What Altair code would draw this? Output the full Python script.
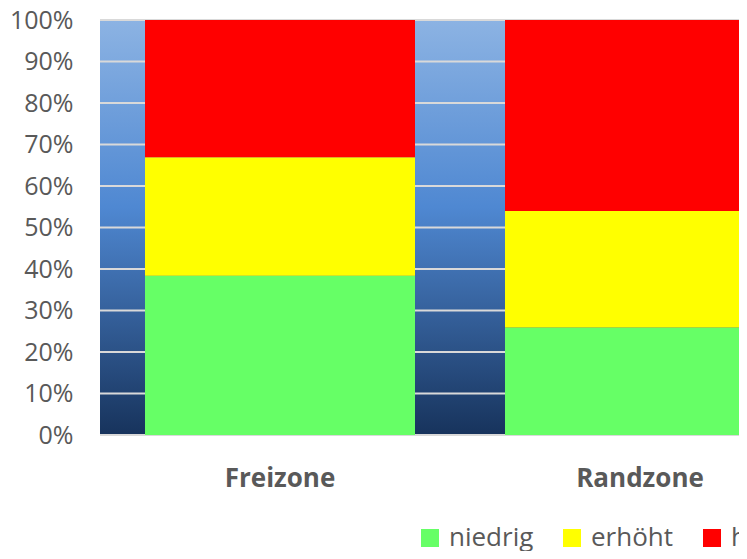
import altair as alt
import pandas as pd

categories = ["Freizone", "Randzone"]
levels = ["niedrig", "erhöht", "hoch"]
niedrig = [38.4, 25.9]
erhoeht = [28.5, 28.1]
hoch = [33.1, 46.0]
level_colors = ["#66FF66", "#FFFF00", "#FF0000"]
y_ticks = [i / 10 for i in range(11)]

rows = []
for series, name in zip([niedrig, erhoeht, hoch], levels):
    for cat, v in zip(categories, series):
        rows.append({"zone": cat, "stufe": name, "wert": v, "idx": levels.index(name)})
df = pd.DataFrame(rows)
grid_df = pd.DataFrame({"t": y_ticks})

FONT = "Open Sans"
GRAY = "#595959"

y_axis = alt.Axis(
    title=None, values=y_ticks, format=".0%", domain=False, ticks=False,
    grid=False, labelFont=FONT, labelFontSize=25, labelColor=GRAY, labelPadding=27,
)
y_scale = alt.Scale(domain=[0, 1])

background = alt.Chart(pd.DataFrame({"a": [0]})).mark_rect(
    color=alt.Gradient(
        gradient="linear", x1=0, y1=0, x2=0, y2=1,
        stops=[
            alt.GradientStop(offset=0, color="#8CB3E3"),
            alt.GradientStop(offset=0.45, color="#4F88D2"),
            alt.GradientStop(offset=1, color="#17335C"),
        ],
    )
).encode(
    x=alt.value(0), x2=alt.value("width"), y=alt.value(0), y2=alt.value("height")
)

gridlines = alt.Chart(grid_df).mark_rule(color="#D9D9D9", strokeWidth=2).encode(
    y=alt.Y("t:Q", scale=y_scale, axis=y_axis),
    x=alt.value(0), x2=alt.value("width"),
)

bars = alt.Chart(df).mark_bar(clip=True).encode(
    x=alt.X(
        "zone:N",
        sort=categories,
        scale=alt.Scale(range=[0, 720], paddingInner=0.25, paddingOuter=0.125),
        axis=alt.Axis(
            title=None, labelAngle=0, domain=False, ticks=False, grid=False,
            labelFont=FONT, labelFontSize=26, labelFontWeight="bold",
            labelColor=GRAY, labelPadding=30,
        ),
    ),
    y=alt.Y("wert:Q", stack="normalize", scale=y_scale, axis=y_axis),
    color=alt.Color(
        "stufe:N",
        sort=levels,
        scale=alt.Scale(domain=levels, range=level_colors),
        legend=alt.Legend(
            title=None, orient="none", legendX=317, legendY=505,
            direction="horizontal", symbolType="square", symbolSize=324,
            symbolStrokeWidth=0, labelFont=FONT, labelFontSize=26,
            labelColor=GRAY, columnPadding=25, labelOffset=6, padding=0,
        ),
    ),
    order=alt.Order("idx:Q", sort="ascending"),
)

chart = alt.layer(background, gridlines, bars).properties(
    width=639,
    height=415,
    autosize=alt.AutoSizeParams(type="none"),
    padding={"left": 92, "top": 12, "right": 0, "bottom": 116},
).configure_view(strokeWidth=0)

chart.save("out.html", embed_options={"renderer": "svg", "actions": False})
